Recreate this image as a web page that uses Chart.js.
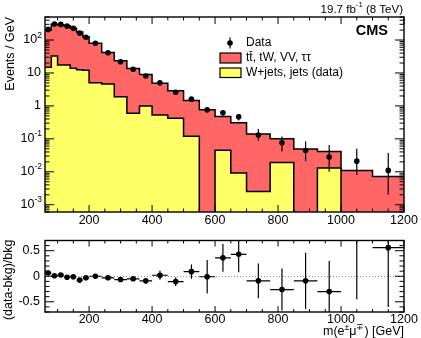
<!DOCTYPE html>
<html>
<head>
<meta charset="utf-8">
<script src="https://cdn.jsdelivr.net/npm/chart.js@4/dist/chart.umd.min.js"></script>
<style>
body { margin: 0; background: #fff; }
#wrap { position: relative; width: 421px; height: 338px; }
canvas { position: absolute; left: 0; }
</style>
</head>
<body>
<div id="wrap">
<canvas id="main" width="421" height="228" style="top:0"></canvas>
<canvas id="ratio" width="421" height="110" style="top:228px"></canvas>
</div>
<script>
// bins in m(e mu) [GeV]
var binEdges = [60, 80, 100, 120, 140, 160, 180, 200, 240, 280, 320, 360, 400, 450, 500, 550, 600, 650, 700, 775, 850, 925, 1000, 1100, 1200];
var binCenters = [70, 90, 110, 130, 150, 170, 190, 220, 260, 300, 340, 380, 425, 475, 525, 575, 625, 675, 737.5, 812.5, 887.5, 962.5, 1050, 1150];

// events / GeV
var dataValues = [210, 305, 298, 265, 226, 162, 122, 80, 41, 22, 13, 8.1, 5.0, 2.6, 1.6, 0.76, 0.62, 0.47, 0.13, 0.076, 0.044, 0.028, 0.021, 0.011];
var dataErrLow = [6, 7, 7, 6.5, 6, 5, 4.5, 2, 1.4, 1.0, 0.7, 0.5, 0.35, 0.23, 0.18, 0.14, 0.12, 0.11, 0.042, 0.035, 0.023, 0.018, 0.013, 0.009];
var dataErrHigh = [6, 7, 7, 6.5, 6, 5, 4.5, 2, 1.4, 1.0, 0.7, 0.5, 0.35, 0.23, 0.18, 0.14, 0.13, 0.1, 0.07, 0.042, 0.039, 0.037, 0.029, 0.026];

// stacked: top of red = tt, tW, VV, tautau + W+jets
var bkgTotal = [198, 302, 293, 270, 228, 175, 125, 80, 42, 23.5, 13.7, 8.9, 4.9, 2.9, 1.47, 0.77, 0.48, 0.31, 0.14, 0.10, 0.049, 0.041, 0.011, 0.0072];
var wjetsValues = [15, 33, 17.5, 17.5, 14, 12.5, 12, 5.0, 4.6, 1.9, 0.6, 1.0, 0.53, 0.42, 0.12, 0, 0.045, 0.0092, 0.0025, 0.019, 0, 0.013, 0, 0];

// (data-bkg)/bkg
var ratioValues = [0.065, 0.01, 0.025, -0.02, -0.01, -0.075, -0.03, 0.0, -0.03, -0.065, -0.05, -0.09, 0.02, -0.105, 0.09, -0.01, 0.36, 0.43, -0.09, -0.26, -0.09, -0.30, 0.95, 0.56];
var ratioErrLow = [0.03, 0.025, 0.025, 0.025, 0.025, 0.03, 0.035, 0.025, 0.03, 0.04, 0.045, 0.055, 0.09, 0.085, 0.14, 0.33, 0.27, 0.35, 0.34, 0.41, 0.55, 0.6, 1.4, 1.16];
var ratioErrHigh = [0.03, 0.025, 0.025, 0.025, 0.025, 0.03, 0.035, 0.025, 0.03, 0.04, 0.045, 0.055, 0.09, 0.085, 0.14, 0.33, 0.27, 0.35, 0.34, 0.41, 0.55, 0.6, 1.4, 1.16];

var xTickValues = [200, 400, 600, 800, 1000, 1200];
var yDecades = [-3, -2, -1, 0, 1, 2];
var ratioTickValues = [-0.5, 0, 0.5];

var RED = '#ff6666';
var YELLOW = '#ffff66';
var FONT = "'Liberation Sans', Arial, Helvetica, sans-serif";

Chart.defaults.font.family = FONT;
Chart.defaults.color = '#000';

function histPoints(vals) {
    return binEdges.map(function(e, i) {
        var v = vals[Math.min(i, vals.length - 1)];
        return {x: e, y: v > 0 ? v : 1e-9};
    });
}

function clipArea(ctx, a) {
    ctx.beginPath();
    ctx.rect(a.left, a.top, a.right - a.left, a.bottom - a.top);
    ctx.clip();
}

// text with raised parts
function supText(ctx, parts, x, y, size, align) {
    var w = 0;
    parts.forEach(function(p) {
        ctx.font = (p.sup ? size * 0.68 : size) + 'px ' + FONT;
        p.w = ctx.measureText(p.t).width;
        w += p.w;
    });
    var cx = align === 'right' ? x - w : x;
    ctx.textAlign = 'left';
    ctx.textBaseline = 'middle';
    parts.forEach(function(p) {
        ctx.font = (p.sup ? size * 0.68 : size) + 'px ' + FONT;
        ctx.fillText(p.t, cx, p.sup ? y - size * 0.38 : y);
        cx += p.w;
    });
}

// frame + inward ticks, ROOT style
function drawFrame(chart, o) {
    var ctx = chart.ctx, a = chart.chartArea;
    var xs = chart.scales.x, ys = chart.scales.y;
    ctx.save();
    ctx.strokeStyle = '#000';
    ctx.lineWidth = 1;
    ctx.beginPath();
    for (var v = 50; v <= xs.max; v += 50) {
        if (v <= xs.min) continue;
        var px = xs.getPixelForValue(v);
        var len = (v % 200 === 0) ? o.xMajor : o.xMinor;
        ctx.moveTo(px, a.bottom); ctx.lineTo(px, a.bottom - len);
        ctx.moveTo(px, a.top); ctx.lineTo(px, a.top + len);
    }
    o.yTicks(ys).forEach(function(t) {
        var py = ys.getPixelForValue(t[0]);
        var len = t[1] ? o.yMajor : o.yMinor;
        ctx.moveTo(a.left, py); ctx.lineTo(a.left + len, py);
        ctx.moveTo(a.right, py); ctx.lineTo(a.right - len, py);
    });
    ctx.stroke();
    ctx.lineWidth = 1.4;
    ctx.strokeRect(a.left, a.top, a.right - a.left, a.bottom - a.top);
    ctx.restore();
}

var mainPlugin = {
    id: 'mainDecor',
    afterDatasetsDraw: function(chart) {
        var ctx = chart.ctx, a = chart.chartArea, xs = chart.scales.x, ys = chart.scales.y;
        ctx.save();
        clipArea(ctx, a);
        ctx.strokeStyle = '#000';
        ctx.lineWidth = 1.2;
        ctx.beginPath();
        binCenters.forEach(function(c, i) {
            var px = xs.getPixelForValue(c);
            ctx.moveTo(px, ys.getPixelForValue(dataValues[i] + dataErrHigh[i]));
            ctx.lineTo(px, ys.getPixelForValue(Math.max(dataValues[i] - dataErrLow[i], 1e-9)));
        });
        ctx.stroke();
        ctx.restore();
    },
    afterDraw: function(chart) {
        var ctx = chart.ctx, a = chart.chartArea, ys = chart.scales.y;
        drawFrame(chart, {
            xMajor: 7, xMinor: 3.5, yMajor: 9, yMinor: 4.5,
            yTicks: function(s) {
                var out = [];
                for (var d = -4; d <= 2; d++) {
                    for (var m = 1; m <= 9; m++) {
                        var v = m * Math.pow(10, d);
                        if (v >= s.min && v <= s.max) out.push([v, m === 1]);
                    }
                }
                return out;
            }
        });
        ctx.save();
        ctx.fillStyle = '#000';
        // log tick labels
        yDecades.forEach(function(d) {
            var py = ys.getPixelForValue(Math.pow(10, d));
            if (d === 0) supText(ctx, [{t: '1'}], 41, py, 12.5, 'right');
            else if (d === 1) supText(ctx, [{t: '10'}], 41, py, 12.5, 'right');
            else supText(ctx, [{t: '10'}, {t: String(d), sup: true}], 42, py, 12.5, 'right');
        });
        // axis title
        ctx.save();
        ctx.translate(11, a.top);
        ctx.rotate(-Math.PI / 2);
        ctx.font = '12.5px ' + FONT;
        ctx.textAlign = 'right';
        ctx.textBaseline = 'middle';
        ctx.fillText('Events / GeV', 0, 0);
        ctx.restore();
        // lumi + CMS
        supText(ctx, [{t: '19.7 fb'}, {t: '-1', sup: true}, {t: ' (8 TeV)'}], 403, 9.5, 11.5, 'right');
        ctx.font = 'bold 14.5px ' + FONT;
        ctx.textAlign = 'right';
        ctx.textBaseline = 'middle';
        ctx.fillText('CMS', 388, 31);
        // legend
        var ds = chart.data.datasets;
        ctx.lineWidth = 1.2;
        ctx.strokeStyle = '#000';
        ctx.beginPath();
        ctx.moveTo(230, 37.5); ctx.lineTo(230, 48.5);
        ctx.stroke();
        ctx.beginPath();
        ctx.arc(230, 43, 2.8, 0, 2 * Math.PI);
        ctx.fill();
        ctx.fillStyle = ds[1].backgroundColor;
        ctx.fillRect(220, 53, 21, 10);
        ctx.strokeRect(220, 53, 21, 10);
        ctx.fillStyle = ds[2].backgroundColor;
        ctx.fillRect(220, 68, 21, 9.5);
        ctx.strokeRect(220, 68, 21, 9.5);
        ctx.fillStyle = '#000';
        ctx.font = '12px ' + FONT;
        ctx.textAlign = 'left';
        ctx.textBaseline = 'middle';
        ctx.fillText(ds[0].label, 246, 43);
        ctx.fillText(ds[1].label, 246, 58);
        ctx.fillText(ds[2].label, 246, 73);
        ctx.restore();
    }
};

var ratioPlugin = {
    id: 'ratioDecor',
    beforeDatasetsDraw: function(chart) {
        var ctx = chart.ctx, a = chart.chartArea, ys = chart.scales.y;
        var py = Math.round(ys.getPixelForValue(0)) + 0.5;
        ctx.save();
        ctx.strokeStyle = '#888';
        ctx.lineWidth = 1;
        ctx.setLineDash([1, 2]);
        ctx.beginPath();
        ctx.moveTo(a.left, py); ctx.lineTo(a.right, py);
        ctx.stroke();
        ctx.restore();
    },
    afterDatasetsDraw: function(chart) {
        var ctx = chart.ctx, a = chart.chartArea, xs = chart.scales.x, ys = chart.scales.y;
        ctx.save();
        clipArea(ctx, a);
        ctx.strokeStyle = '#000';
        ctx.lineWidth = 1.2;
        ctx.beginPath();
        binCenters.forEach(function(c, i) {
            var px = xs.getPixelForValue(c);
            var py = ys.getPixelForValue(ratioValues[i]);
            ctx.moveTo(px, ys.getPixelForValue(ratioValues[i] + ratioErrHigh[i]));
            ctx.lineTo(px, ys.getPixelForValue(ratioValues[i] - ratioErrLow[i]));
            ctx.moveTo(xs.getPixelForValue(binEdges[i]), py);
            ctx.lineTo(xs.getPixelForValue(binEdges[i + 1]), py);
        });
        ctx.stroke();
        ctx.restore();
    },
    afterDraw: function(chart) {
        var ctx = chart.ctx, a = chart.chartArea;
        drawFrame(chart, {
            xMajor: 6, xMinor: 3, yMajor: 9, yMinor: 4.5,
            yTicks: function(s) {
                var out = [];
                for (var k = -7; k <= 7; k++) out.push([k / 10, k % 5 === 0]);
                return out;
            }
        });
        ctx.save();
        ctx.fillStyle = '#000';
        ctx.save();
        ctx.translate(9, a.top - 1);
        ctx.rotate(-Math.PI / 2);
        ctx.font = '12.5px ' + FONT;
        ctx.textAlign = 'right';
        ctx.textBaseline = 'middle';
        ctx.fillText('(data-bkg)/bkg', 0, 0);
        ctx.restore();
        supText(ctx, [{t: 'm(e'}, {t: '\u00b1', sup: true}, {t: '\u03bc'}, {t: '\u2213', sup: true}, {t: ') [GeV]'}], 404, 104, 12.5, 'right');
        ctx.restore();
    }
};

function xScale(height, pad) {
    return {
        type: 'linear',
        min: 60,
        max: 1200,
        grid: {display: false, drawTicks: false},
        border: {display: false},
        ticks: {autoSkip: false, maxRotation: 0, padding: pad, font: {size: 12.5}, color: '#000',
            callback: function(v) { return String(v); }},
        afterBuildTicks: function(s) { s.ticks = xTickValues.map(function(v) { return {value: v}; }); },
        afterFit: function(s) { s.height = height; }
    };
}

new Chart(document.getElementById('main'), {
    type: 'line',
    data: {
        datasets: [
            {
                label: 'Data',
                data: binCenters.map(function(c, i) { return {x: c, y: dataValues[i]}; }),
                showLine: false,
                pointRadius: 2.8,
                pointBackgroundColor: '#000',
                pointBorderWidth: 0,
                order: 0
            },
            {
                label: 't\u0074\u0304, tW, VV, \u03c4\u03c4',
                data: histPoints(bkgTotal),
                stepped: 'before',
                fill: 'start',
                backgroundColor: RED,
                borderColor: '#000',
                borderWidth: 1.5,
                pointRadius: 0,
                order: 2
            },
            {
                label: 'W+jets, jets (data)',
                data: histPoints(wjetsValues),
                stepped: 'before',
                fill: 'start',
                backgroundColor: YELLOW,
                borderColor: '#000',
                borderWidth: 1.5,
                pointRadius: 0,
                order: 1
            }
        ]
    },
    options: {
        responsive: false,
        animation: false,
        devicePixelRatio: 1,
        layout: {padding: {left: 0, right: 17, top: 17, bottom: 0}},
        plugins: {legend: {display: false}, tooltip: {enabled: false}},
        scales: {
            x: xScale(16, 1.5),
            y: {
                type: 'logarithmic',
                min: 6e-4,
                max: 500,
                grid: {display: false, drawTicks: false},
                border: {display: false},
                ticks: {callback: function() { return ''; }},
                afterBuildTicks: function(s) { s.ticks = yDecades.map(function(d) { return {value: Math.pow(10, d)}; }); },
                afterFit: function(s) { s.width = 45; }
            }
        }
    },
    plugins: [mainPlugin]
});

new Chart(document.getElementById('ratio'), {
    type: 'line',
    data: {
        datasets: [{
            label: '(data-bkg)/bkg',
            data: binCenters.map(function(c, i) { return {x: c, y: ratioValues[i]}; }),
            showLine: false,
            pointRadius: 2.8,
            pointBackgroundColor: '#000',
            pointBorderWidth: 0
        }]
    },
    options: {
        responsive: false,
        animation: false,
        devicePixelRatio: 1,
        layout: {padding: {left: 0, right: 17, top: 2, bottom: 0}},
        plugins: {legend: {display: false}, tooltip: {enabled: false}},
        scales: {
            x: xScale(26, 0.5),
            y: {
                type: 'linear',
                min: -0.7,
                max: 0.7,
                grid: {display: false, drawTicks: false},
                border: {display: false},
                ticks: {padding: 5, font: {size: 12.5}, color: '#000',
                    callback: function(v) { return v === 0 ? '0' : String(v); }},
                afterBuildTicks: function(s) { s.ticks = ratioTickValues.map(function(v) { return {value: v}; }); },
                afterFit: function(s) { s.width = 45; }
            }
        }
    },
    plugins: [ratioPlugin]
});
</script>
</body>
</html>
